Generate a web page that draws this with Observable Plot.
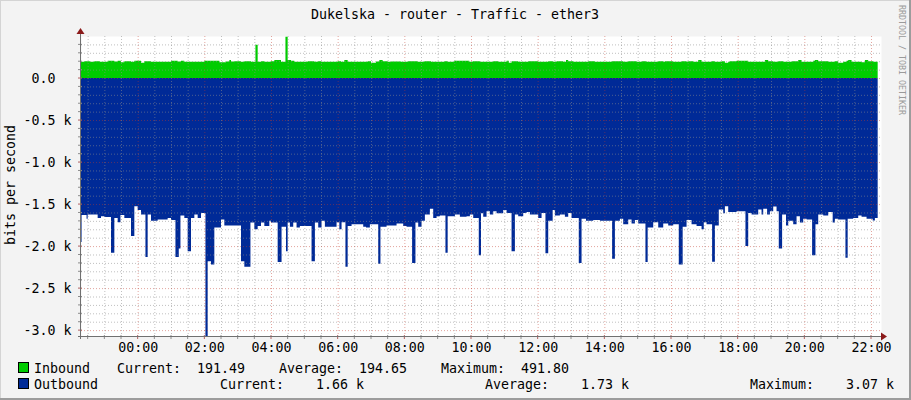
<!DOCTYPE html>
<html><head><meta charset="utf-8">
<script src="https://cdn.jsdelivr.net/npm/d3@7"></script>
<script src="https://cdn.jsdelivr.net/npm/@observablehq/plot@0.6"></script>
<style>
html,body{margin:0;padding:0;background:#f3f3f3;}
#chart{width:911px;height:400px;}
</style></head><body><div id="chart"></div>
<script>
const title = "Dukelska - router - Traffic - ether3";
const yAxisLabel = "bits per second";
const watermark = "RRDTOOL / TOBI OETIKER";

// [minutes relative to 00:00 (negative = previous evening), bits per second]
const inbound = [[-102,195],[-96,200],[-86,195],[-78,200],[-68,195],[-54,205],[-42,198],[-36,205],[-30,187],[-24,200],[-12,195],[-6,205],[6,183],[12,200],[24,195],[60,205],[72,198],[78,205],[84,195],[120,205],[147,187],[159,198],[165,214],[168,198],[174,200],[186,195],[192,200],[204,195],[212,397],[216,195],[222,200],[228,195],[240,200],[246,214],[258,195],[266,492],[270,214],[276,205],[282,195],[306,200],[318,195],[324,200],[330,195],[360,200],[366,195],[372,214],[378,195],[414,200],[420,183],[429,198],[435,214],[441,200],[450,195],[456,198],[474,195],[486,200],[504,195],[516,200],[528,195],[552,200],[558,195],[570,205],[597,195],[603,200],[616,195],[640,200],[649,195],[664,205],[668,183],[673,200],[685,195],[703,200],[721,195],[739,200],[748,195],[754,200],[766,195],[771,214],[775,200],[784,195],[811,200],[823,195],[853,200],[874,195],[883,200],[898,195],[907,200],[916,195],[937,200],[946,195],[949,200],[964,195],[979,200],[988,195],[991,200],[1000,195],[1009,214],[1015,195],[1033,200],[1039,195],[1051,200],[1057,183],[1063,195],[1066,200],[1078,205],[1099,195],[1129,214],[1135,200],[1144,195],[1153,200],[1162,195],[1177,200],[1189,214],[1195,195],[1216,205],[1219,214],[1225,200],[1243,195],[1255,200],[1261,183],[1270,195],[1276,205],[1279,214],[1285,195],[1303,187],[1309,214],[1315,200],[1324,195],[1332,191]];

// outbound traffic, drawn below zero
const outbound = [[-102,1950],[-101,1630],[-92,1675],[-90,1625],[-72,1665],[-66,1645],[-60,1655],[-48,2080],[-42,1665],[-36,1715],[-31,1630],[-24,1665],[-12,1880],[-6,1525],[0,1570],[6,1625],[14,2130],[18,1625],[24,1700],[36,1685],[54,1665],[60,1690],[68,2130],[74,2030],[77,1635],[84,1665],[90,2060],[96,1665],[102,1625],[108,1665],[114,1605],[122,3070],[126,2180],[132,2220],[138,1780],[150,1685],[156,1755],[186,2180],[192,2245],[203,1720],[210,1800],[216,1760],[222,1720],[228,1760],[237,1700],[240,1720],[252,2190],
[259,1770],[267,2060],[270,1720],[274,1770],[280,1720],[286,1780],[292,1760],[313,2180],[319,1720],[325,1780],[331,1700],[337,1770],[358,1715],[363,1800],[367,1715],[374,2245],[378,1760],[385,1740],[406,1770],[411,1780],[418,1740],[433,2210],[437,1770],[448,1755],[466,1730],[478,1760],[484,1770],[494,2200],[500,1720],[505,1770],[511,1700],[517,1625],[526,1555],[532,1665],[538,1645],[544,1635],[554,2080],[558,1645],[571,1625],[580,1650],[592,1645],[598,1625],[604,1665],[614,2110],
[618,1610],[622,1650],[628,1585],[634,1625],[640,1585],[646,1610],[658,1570],[664,1605],[673,2060],[679,1625],[685,1645],[694,1605],[700,1595],[706,1625],[721,1665],[727,1605],[734,2085],[739,1700],[747,1570],[751,1635],[760,1625],[769,1650],[775,1605],[781,1665],[794,2200],[799,1675],[807,1700],[820,1690],[832,1700],[854,2150],[859,1700],[868,1675],[874,1740],[883,1685],[889,1730],[895,1690],[901,1730],[914,2190],[918,1780],[928,1715],[937,1780],[946,1730],[955,1755],[964,1740],[974,2220],
[981,1770],[988,1690],[997,1740],[1006,1760],[1015,1800],[1019,1715],[1024,1740],[1034,2185],[1039,1755],[1046,1565],[1054,1610],[1057,1525],[1063,1595],[1078,1585],[1094,2000],[1099,1605],[1105,1625],[1117,1565],[1123,1625],[1126,1555],[1133,1625],[1138,1585],[1144,1530],[1150,1585],[1154,2030],[1160,1625],[1167,1755],[1171,1700],[1180,1740],[1186,1645],[1192,1720],[1198,1675],[1204,1685],[1214,2110],[1220,1740],[1225,1625],[1234,1635],[1243,1595],[1251,1720],[1255,1675],[1261,1685],[1274,2140],[1278,1675],[1288,1665],[1297,1635],[1303,1650],[1312,1675],[1323,1695],[1327,1665],[1332,1660]];

const xTickMinutes = [0,120,240,360,480,600,720,840,960,1080,1200,1320];
const xTickLabels = ["00:00","02:00","04:00","06:00","08:00","10:00","12:00","14:00","16:00","18:00","20:00","22:00"];
const yTickValues = [0,-500,-1000,-1500,-2000,-2500,-3000];
const yTickLabels = ["0.0\u00a0\u00a0","-0.5 k","-1.0 k","-1.5 k","-2.0 k","-2.5 k","-3.0 k"];

const seriesNames = ["Inbound","Outbound"];
const seriesColors = ["#00cc00","#002a97"];
const statLabels = ["Current:","Average:","Maximum:"];
const inboundStats = ["191.49","194.65","491.80"];
const outboundStats = ["1.66 k","1.73 k","3.07 k"];

const FONT = "DejaVu Sans Mono";
const inData = inbound.map(([t,v]) => ({t, v}));
const outData = outbound.map(([t,v]) => ({t, v: -v}));
const xTicks = xTickMinutes.map((m,i) => ({m, label: xTickLabels[i]}));
const yTicks = yTickValues.map((v,i) => ({v, label: yTickLabels[i]}));

const xDomain = [-102, 1338];
const minorX = d3.range(-90, 1338, 30).filter(m => m % 120 !== 0);
const majorX = d3.range(0, 1338, 120);
const minorY = d3.range(-3000, 401, 100).filter(v => v % 500 !== 0);
const majorY = d3.range(-3000, 1, 500);

const gridGray = {stroke: "#8c8c8c", strokeOpacity: 0.55, strokeDasharray: "1,2"};
const gridRed = {stroke: "#c0392b", strokeOpacity: 0.45, strokeDasharray: "1,2"};

const plot = Plot.plot({
  width: 911, height: 400,
  marginLeft: 81, marginRight: 30, marginTop: 36, marginBottom: 64,
  x: {type: "linear", domain: xDomain, axis: null},
  y: {domain: [-3070, 500], axis: null},
  style: {background: "#f3f3f3", fontFamily: FONT, fontSize: "13.3px", color: "black", overflow: "visible"},
  marks: [
    Plot.frame({fill: "white", stroke: "none"}),
    Plot.areaY(inData, {x: "t", y: "v", curve: "step-after", fill: seriesColors[0]}),
    Plot.areaY(outData, {x: "t", y: "v", curve: "step-after", fill: seriesColors[1]}),
    Plot.ruleX(minorX, {x: d => d, ...gridGray}),
    Plot.ruleY(minorY, {y: d => d, ...gridGray}),
    Plot.ruleX(majorX, {x: d => d, ...gridRed}),
    Plot.ruleY(majorY, {y: d => d, ...gridRed}),
    Plot.text(xTicks, {x: "m", text: "label", frameAnchor: "bottom", dy: 11, lineAnchor: "middle", fontFamily: FONT, fontSize: 13.3, fill: "black"}),
    Plot.text(yTicks, {y: "v", text: "label", frameAnchor: "left", dx: -10, textAnchor: "end", lineAnchor: "middle", fontFamily: FONT, fontSize: 13.3, fill: "black"})
  ]
});
document.getElementById("chart").appendChild(plot);

const sx = plot.scale("x"), sy = plot.scale("y");
const svg = d3.select(plot);
const pLeft = 81, pRight = 881, pTop = 36, pBottom = sy.apply(-3070);

// tick marks on axes
const tg = svg.append("g");
minorY.forEach(v => { const y = sy.apply(v); tg.append("line").attr("x1", pLeft-3).attr("x2", pLeft+1).attr("y1", y).attr("y2", y).attr("stroke", "#8c8c8c"); });
majorY.forEach(v => { const y = sy.apply(v); tg.append("line").attr("x1", pLeft-3).attr("x2", pLeft+1).attr("y1", y).attr("y2", y).attr("stroke", "#b06060"); });
minorX.forEach(m => { const x = sx.apply(m); tg.append("line").attr("x1", x).attr("x2", x).attr("y1", pBottom-1).attr("y2", pBottom+3).attr("stroke", "#8c8c8c"); });
majorX.forEach(m => { const x = sx.apply(m); tg.append("line").attr("x1", x).attr("x2", x).attr("y1", pBottom-1).attr("y2", pBottom+3).attr("stroke", "#b06060"); });

// axis lines and arrows
svg.append("line").attr("x1", pLeft-0.5).attr("x2", pLeft-0.5).attr("y1", pBottom+3).attr("y2", pTop-5).attr("stroke", "#707070");
svg.append("line").attr("x1", pLeft-3).attr("x2", pRight+2).attr("y1", pBottom+0.5).attr("y2", pBottom+0.5).attr("stroke", "#707070");
svg.append("path").attr("d", `M${pLeft-0.5},${pTop-8} L${pLeft-4.5},${pTop-2} L${pLeft+3.5},${pTop-2} Z`).attr("fill", "#8b1a1a");
svg.append("path").attr("d", `M${pRight+6},${pBottom+0.5} L${pRight},${pBottom-3.5} L${pRight},${pBottom+4.5} Z`).attr("fill", "#8b1a1a");

// title
svg.append("text").attr("x", 455).attr("y", 14).attr("dy", "0.35em").attr("text-anchor", "middle")
  .attr("font-family", FONT).attr("font-size", 13.3).attr("fill", "black").text(title);
// y axis label
svg.append("text").attr("transform", "translate(10,185) rotate(-90)").attr("dy", "0.35em").attr("text-anchor", "middle")
  .attr("font-family", FONT).attr("font-size", 13.3).attr("fill", "black").text(yAxisLabel);
// watermark
svg.append("text").attr("transform", "translate(902,5) rotate(90)").attr("dy", "0.35em").attr("text-anchor", "start")
  .attr("font-family", FONT).attr("font-size", 8.3).attr("fill", "#9a9a9a").text(watermark);

// legend
const legendRows = [
  {y: 368, xs: [117,197,279,359,441,521], stats: inboundStats},
  {y: 384, xs: [220,316,485,581,750,846], stats: outboundStats}
];
legendRows.forEach((row, i) => {
  svg.append("rect").attr("x", 18.5).attr("y", row.y-5.5).attr("width", 10).attr("height", 10)
    .attr("fill", seriesColors[i]).attr("stroke", "black").attr("stroke-width", 1);
  const txt = (x, s) => svg.append("text").attr("x", x).attr("y", row.y).attr("dy", "0.35em")
    .attr("text-anchor", "start")
    .attr("font-family", FONT).attr("font-size", 13.3).attr("fill", "black").text(s);
  txt(34, seriesNames[i]);
  statLabels.forEach((lab, j) => { txt(row.xs[2*j], lab); txt(row.xs[2*j+1], row.stats[j]); });
});

// frame shading
svg.append("rect").attr("x", 0).attr("y", 0).attr("width", 911).attr("height", 1).attr("fill", "#d4d4d4");
svg.append("rect").attr("x", 0).attr("y", 0).attr("width", 1).attr("height", 400).attr("fill", "#d4d4d4");
svg.append("rect").attr("x", 909).attr("y", 0).attr("width", 2).attr("height", 400).attr("fill", "#9c9c9c");
svg.append("rect").attr("x", 0).attr("y", 398).attr("width", 911).attr("height", 2).attr("fill", "#9c9c9c");
</script></body></html>
